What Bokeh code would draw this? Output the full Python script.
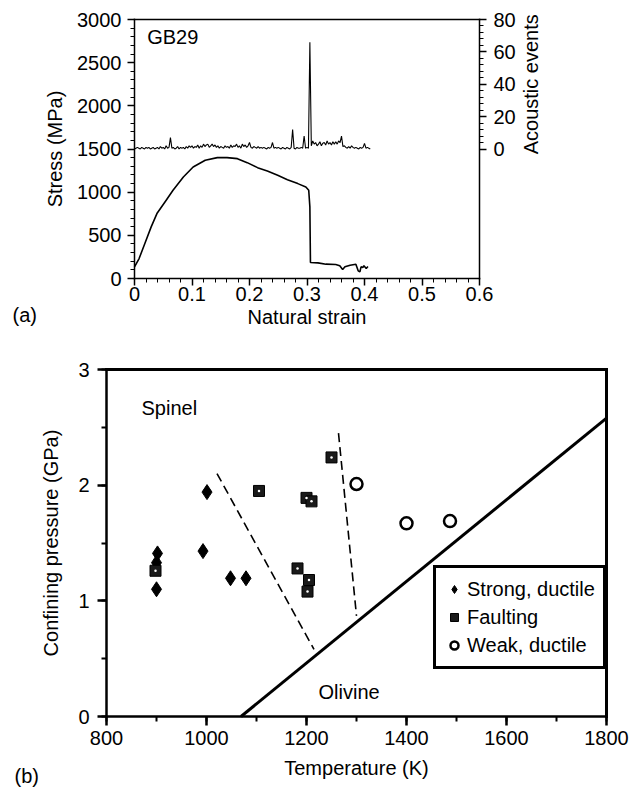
import math
from bokeh.plotting import figure
from bokeh.models import (LinearAxis, Range1d, FixedTicker, Label, Legend, LegendItem)
from bokeh.layouts import column
from bokeh.embed import file_html
from bokeh.resources import INLINE

FONT = "Liberation Sans"
FS = "20px"

# ---------------- panel (a) data ----------------
strain = [0.0, 0.008, 0.018, 0.029, 0.039, 0.053, 0.067, 0.085, 0.102, 0.123,
          0.144, 0.161, 0.179, 0.196, 0.214, 0.231, 0.249, 0.266, 0.284, 0.298,
          0.303, 0.305, 0.306, 0.319, 0.333, 0.350, 0.357, 0.362, 0.366, 0.375,
          0.385, 0.389, 0.392, 0.394, 0.397, 0.399, 0.403, 0.406]
stress = [135, 231, 405, 598, 752, 887, 1022, 1176, 1292, 1369,
          1400, 1400, 1388, 1342, 1284, 1245, 1195, 1145, 1099, 1060,
          1022, 829, 185, 181, 166, 162, 147, 104, 135, 154,
          166, 89, 77, 135, 127, 147, 116, 139]

# acoustic events, sampled every 0.0025 of strain from 0 to 0.41
ae_counts = [0, 0.5, 1, 0.5, 0, 1, 0.5, 0, 1, 0.5, 1, 0, 0.5, 1, 0, 0.5, 1, 0, 1.5, 0.5,
             1, 0, 2, 0.5, 1, 7, 0.5, 1, 0, 0.5, 1.5, 0, 1, 0.5, 1, 0, 1.5, 0.5, 2, 1,
             2, 0.5, 1.5, 1, 2.5, 0.5, 2, 1, 3, 1.5, 2.5, 3, 1, 2, 3, 1.5, 2.5, 1, 2, 0.5,
             1.5, 1, 0.5, 2, 1, 1.5, 0.5, 2.5, 1, 2, 1.5, 3, 1, 2, 0.5, 3, 1.5, 2.5, 1, 2,
             4, 1, 0.5, 1.5, 1, 0.5, 1.5, 0.5, 1, 0.5, 1, 0.5, 0, 1, 0.5, 1, 4, 0.5, 1, 0.5,
             1, 0.5, 0, 1, 0.5, 0, 1, 0.5, 0, 1, 12, 0.5, 0, 1, 0.5, 0.5, 1, 0.5, 8, 0.5,
             1, 0.5, 66, 2, 5, 3, 4, 2, 3, 4.5, 2, 3.5, 4, 2.5, 5, 3, 4, 2.5, 4.5, 3,
             4.5, 3, 5, 4, 8, 1.5, 2, 1, 0.5, 1.5, 0.5, 2, 1, 0.5, 1, 0.5, 0, 1, 0.5, 1,
             3.5, 0.5, 1, 0.5, 0]
ae_strain = [round(i * 0.0025, 4) for i in range(len(ae_counts))]

stress_ticks = [0, 500, 1000, 1500, 2000, 2500, 3000]
strain_ticks = [0, 0.1, 0.2, 0.3, 0.4, 0.5, 0.6]
ae_ticks = [0, 20, 40, 60, 80]

# ---------------- panel (b) data ----------------
strong_T = [902, 900, 900, 1001, 993, 1048, 1079]
strong_P = [1.41, 1.33, 1.10, 1.94, 1.43, 1.195, 1.195]
fault_T = [898, 1105, 1200, 1210, 1182, 1205, 1202, 1250]
fault_P = [1.26, 1.95, 1.89, 1.86, 1.28, 1.18, 1.08, 2.24]
weak_T = [1300, 1400, 1487]
weak_P = [2.01, 1.67, 1.69]
bound1_T = [1021, 1215]
bound1_P = [2.10, 0.58]
bound2_T = [1264, 1300]
bound2_P = [2.45, 0.87]
phase_T = [1069, 1800]
phase_P = [0.0, 2.58]
temp_ticks = [800, 1000, 1200, 1400, 1600, 1800]
press_ticks = [0, 1, 2, 3]


def style_axis(ax, lw=1.5, tout=7, mout=4, standoff=5):
    ax.axis_line_color = "black"
    ax.axis_line_width = lw
    ax.axis_line_cap = "square"
    ax.major_tick_line_color = "black"
    ax.major_tick_line_width = lw
    ax.minor_tick_line_color = "black"
    ax.minor_tick_line_width = max(1, lw - 0.5)
    ax.major_tick_in = 0
    ax.major_tick_out = tout
    ax.minor_tick_in = 0
    ax.minor_tick_out = mout
    ax.major_label_text_font = FONT
    ax.major_label_text_font_size = FS
    ax.major_label_text_color = "black"
    ax.axis_label_text_font = FONT
    ax.axis_label_text_font_size = FS
    ax.axis_label_text_font_style = "normal"
    ax.axis_label_text_color = "black"
    ax.major_label_standoff = standoff


def frame_line(ax, lw):
    ax.ticker = FixedTicker(ticks=[], minor_ticks=[])
    ax.axis_line_color = "black"
    ax.axis_line_width = lw
    ax.axis_line_cap = "square"
    ax.major_tick_out = 0
    ax.minor_tick_out = 0
    ax.major_label_text_font_size = "0px"


def label(x, y, text, **kw):
    return Label(x=x, y=y, text=text, text_font=FONT, text_font_size=FS, text_color="black",
                 text_baseline="middle", text_align=kw.pop("align", "left"), **kw)


# ---------------- panel (a): frame fills the canvas; axes sit at fixed data locations ----------------
W1, H1 = 629, 335
A_L, A_R, A_T, A_B = 134, 479, 19, 278          # pixel box of the plotted area
sx1 = 0.6 / (A_R - A_L)
sy1 = 3000 / (A_B - A_T)
sa1 = 160 / (A_B - A_T)
p1 = figure(width=W1, height=H1,
            x_range=Range1d(-A_L * sx1, 0.6 + (W1 - A_R) * sx1),
            y_range=Range1d(-(H1 - A_B) * sy1, 3000 + A_T * sy1),
            x_axis_location=None, y_axis_location=None,
            output_backend="svg", toolbar_location=None,
            min_border=0, min_border_left=0, min_border_right=0, min_border_top=0, min_border_bottom=0)
p1.extra_y_ranges = {"ae": Range1d(-80 - (H1 - A_B) * sa1, 80 + A_T * sa1)}
p1.grid.grid_line_color = None
p1.outline_line_color = None

ax_b = LinearAxis(fixed_location=0, bounds=(0, 0.6), axis_label="Natural strain",
                  ticker=FixedTicker(ticks=strain_ticks,
                                     minor_ticks=[round(i * 0.02, 2) for i in range(31)]))
style_axis(ax_b, standoff=1)
ax_b.axis_label_standoff = 2
ax_b.major_label_overrides = {0: "0"}
p1.add_layout(ax_b, "below")

ax_l = LinearAxis(fixed_location=0, bounds=(0, 3000), axis_label="Stress (MPa)",
                  ticker=FixedTicker(ticks=stress_ticks, minor_ticks=list(range(0, 3001, 100))))
style_axis(ax_l, standoff=6)
ax_l.axis_label_standoff = 8
p1.add_layout(ax_l, "left")

ax_r = LinearAxis(y_range_name="ae", fixed_location=0.6, bounds=(-80, 80),
                  ticker=FixedTicker(ticks=ae_ticks, minor_ticks=list(range(0, 81, 4))))
style_axis(ax_r, standoff=7)
p1.add_layout(ax_r, "right")

ax_t = LinearAxis(fixed_location=3000, bounds=(0, 0.6))
frame_line(ax_t, 1.5)
p1.add_layout(ax_t, "above")

p1.line(strain, stress, line_color="black", line_width=1.6)
p1.line(ae_strain, ae_counts, y_range_name="ae", line_color="black", line_width=1.1)

p1.add_layout(label(0.022, 2796, "GB29"))
p1.add_layout(label(0.6887, 40, "Acoustic events", y_range_name="ae", angle=math.pi / 2,
                    align="center"))
p1.add_layout(label(-A_L * sx1 + 12 * sx1, -(314 - A_B) * sy1, "(a)"))

# ---------------- panel (b) ----------------
W2, H2 = 629, 453
B_L, B_R, B_T, B_B = 106, 606, 34, 381
sx2 = 1000 / (B_R - B_L)
sy2 = 3 / (B_B - B_T)
p2 = figure(width=W2, height=H2,
            x_range=Range1d(800 - B_L * sx2, 1800 + (W2 - B_R) * sx2),
            y_range=Range1d(-(H2 - B_B) * sy2, 3 + B_T * sy2),
            x_axis_location=None, y_axis_location=None,
            output_backend="svg", toolbar_location=None,
            min_border=0, min_border_left=0, min_border_right=0, min_border_top=0, min_border_bottom=0)
p2.grid.grid_line_color = None
p2.outline_line_color = None

bx_b = LinearAxis(fixed_location=0, bounds=(800, 1800), axis_label="Temperature (K)",
                  ticker=FixedTicker(ticks=temp_ticks, minor_ticks=list(range(800, 1801, 100))))
style_axis(bx_b, lw=2.5, tout=9, mout=5, standoff=5)
bx_b.axis_label_standoff = 9
p2.add_layout(bx_b, "below")

bx_l = LinearAxis(fixed_location=800, bounds=(0, 3), axis_label="Confining pressure (GPa)",
                  ticker=FixedTicker(ticks=press_ticks, minor_ticks=[0, 0.5, 1, 1.5, 2, 2.5, 3]))
style_axis(bx_l, lw=2.5, tout=9, mout=5, standoff=8)
bx_l.axis_label_standoff = 13
p2.add_layout(bx_l, "left")

bx_t = LinearAxis(fixed_location=3, bounds=(800, 1800))
frame_line(bx_t, 3)
p2.add_layout(bx_t, "above")
bx_r = LinearAxis(fixed_location=1800, bounds=(0, 3))
frame_line(bx_r, 3)
p2.add_layout(bx_r, "right")

p2.line(phase_T, phase_P, line_color="black", line_width=3)
p2.line(bound1_T, bound1_P, line_color="black", line_width=1.6, line_dash="9 5")
p2.line(bound2_T, bound2_P, line_color="black", line_width=1.6, line_dash="9 5")

r_strong = p2.scatter(strong_T, strong_P, marker="diamond", size=15,
                      fill_color="black", line_color="black")
r_fault = p2.scatter(fault_T, fault_P, marker="square", size=11,
                     fill_color="#1a1a1a", line_color="black")
r_fdot = p2.scatter(fault_T, fault_P, marker="circle", size=2.5,
                    fill_color="white", line_color=None)
r_weak = p2.scatter(weak_T, weak_P, marker="circle", size=12,
                    fill_color="white", line_color="black", line_width=2.5)

p2.add_layout(label(870, 2.67, "Spinel"))
p2.add_layout(label(1224, 0.216, "Olivine"))
p2.add_layout(label(800 - B_L * sx2 + 14 * sx2, -(440 - B_B) * sy2, "(b)"))

legend = Legend(items=[LegendItem(label="Strong, ductile", renderers=[r_strong]),
                       LegendItem(label="Faulting", renderers=[r_fault]),
                       LegendItem(label="Weak, ductile", renderers=[r_weak])],
                location=(433, H2 - (669 - 335)))
legend.label_text_font = FONT
legend.label_text_font_size = FS
legend.label_text_color = "black"
legend.border_line_color = "black"
legend.border_line_alpha = 1
legend.border_line_width = 3
legend.background_fill_color = "white"
legend.background_fill_alpha = 1
legend.padding = 8
legend.spacing = 2
legend.glyph_width = 20
legend.glyph_height = 26
legend.label_standoff = 3
legend.label_height = 20
legend.margin = 0
p2.add_layout(legend)

layout = column(p1, p2, spacing=0)
open("out.html", "w").write(file_html(layout, INLINE))
